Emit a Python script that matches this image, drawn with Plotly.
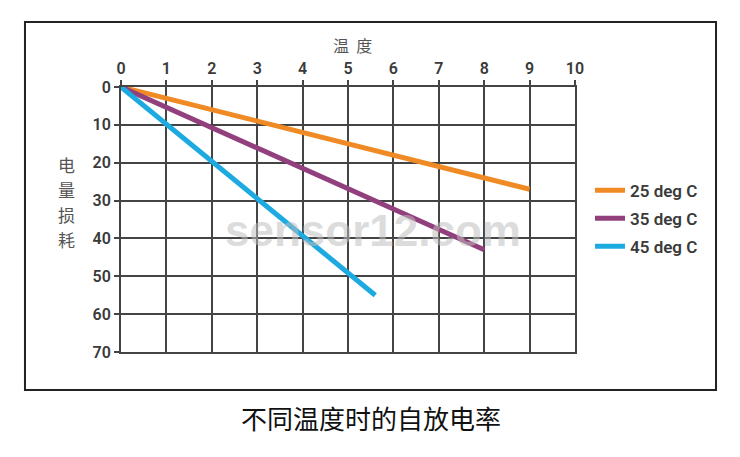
import plotly.graph_objects as go

series_names = ["25 deg C", "35 deg C", "45 deg C"]
series_x = [[0, 9], [0, 8], [0, 5.6]]
series_y = [[0, 27], [0, 43], [0, 55]]
series_colors = ["#F08A24", "#923F7D", "#1DAAE0"]
x_ticks = list(range(0, 11))
y_ticks = list(range(0, 80, 10))
y_title_chars = ["电", "量", "损", "耗"]

fig = go.Figure()
for name, xs, ys, c in zip(series_names, series_x, series_y, series_colors):
    fig.add_trace(go.Scatter(x=xs, y=ys, mode="lines", name=name, legendgroup=name,
                             line=dict(color=c, width=5)))

tickfont = dict(family="Roboto", size=16, color="#3a3a3a", weight=600)
annotations = [
    dict(text="sensor12.com", xref="paper", yref="paper", x=0.554, y=0.46,
         xanchor="center", yanchor="middle", showarrow=False,
         font=dict(family="Liberation Sans", size=44, weight=600,
                   color="rgba(190,190,190,0.55)")),
    dict(text="温  度", xref="paper", yref="paper", x=0.509, y=1.158,
         xanchor="center", yanchor="middle", showarrow=False,
         font=dict(family="Noto Sans CJK SC", size=16, color="#555")),
    dict(text="不同温度时的自放电率", xref="paper", yref="paper", x=0.55, y=-0.249,
         xanchor="center", yanchor="middle", showarrow=False,
         font=dict(family="Noto Sans CJK SC", size=26, color="#111")),
]
for i, ch in enumerate(y_title_chars):
    annotations.append(dict(text=ch, xref="paper", yref="paper", x=-0.121,
                            y=0.7057 - i * 0.0943, xanchor="center", yanchor="middle",
                            showarrow=False,
                            font=dict(family="Noto Sans CJK SC", size=17, color="#555")))

fig.update_layout(
    width=732, height=449,
    margin=dict(l=113, r=165, t=79, b=105),
    paper_bgcolor="white", plot_bgcolor="white",
    showlegend=True,
    legend=dict(x=1.033, y=0.677, xanchor="left", yanchor="top",
                font=dict(family="Roboto", size=17, color="#3a3a3a", weight=600),
                itemwidth=30, tracegroupgap=3, bgcolor="rgba(0,0,0,0)"),
    xaxis=dict(range=[0, 10], side="top", tickvals=x_ticks, ticks="outside",
               ticklen=5, tickwidth=2, tickcolor="#444", showgrid=True,
               gridcolor="#444", gridwidth=2, showline=True, mirror=True,
               linecolor="#444", linewidth=2, zeroline=False, tickfont=tickfont),
    yaxis=dict(range=[70, 0], tickvals=y_ticks, ticks="outside",
               ticklen=5, tickwidth=2, tickcolor="#444", showgrid=True,
               gridcolor="#444", gridwidth=2, showline=True, mirror=True,
               linecolor="#444", linewidth=2, zeroline=False, tickfont=tickfont),
    shapes=[dict(type="rect", xref="paper", yref="paper",
                 x0=-0.2115, x1=1.3106, y0=-0.1434, y1=1.245,
                 line=dict(color="#222", width=2), layer="below")],
    annotations=annotations,
)
fig.write_html("out.html")
